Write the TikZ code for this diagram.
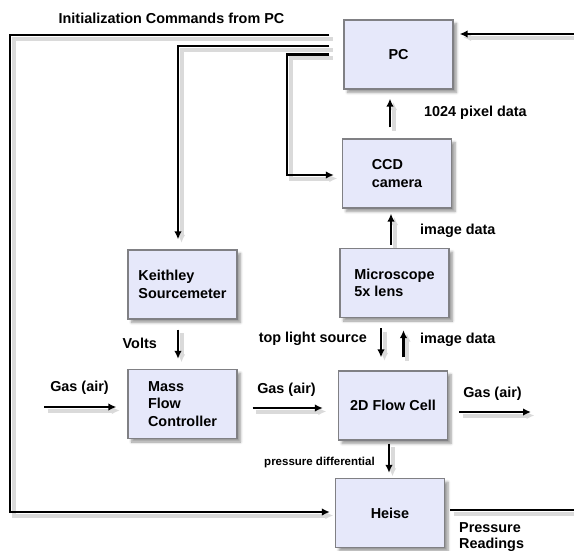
\documentclass[tikz,border=0pt]{standalone}
\usepackage{fontspec}
\setmainfont{Liberation Sans}
\usetikzlibrary{arrows.meta,shadows.blur}

\definecolor{boxfill}{RGB}{230,232,250}
\definecolor{boxline}{RGB}{128,128,132}
\definecolor{shade}{RGB}{218,218,218}

\tikzset{
  box/.style={draw=boxline, line width=1.3pt, fill=boxfill,
    minimum width=109pt, minimum height=69pt, inner sep=0pt,
    align=left, font=\fontsize{14.4}{17.5}\selectfont\bfseries,
    blur shadow={shadow xshift=3.5pt, shadow yshift=-3.5pt,
      shadow blur steps=6, shadow blur radius=2.5pt, shadow opacity=40}},
  conn/.style={line width=2.2pt, black,
    preaction={draw=shade, line width=4pt,
      transform canvas={xshift=3.5pt, yshift=-3.5pt}}},
  arr/.style={conn, -{Latex[length=8pt,width=7.5pt]}},
  lbl/.style={inner sep=0pt, font=\fontsize{14.4}{17.5}\selectfont\bfseries},
  smalllbl/.style={inner sep=0pt, font=\fontsize{11.5}{13}\selectfont\bfseries}
}

\begin{document}
\begin{tikzpicture}[x=1pt, y=-1pt]
\useasboundingbox (0,0) rectangle (574,550);

% blocks
\node[box] (PC)    at (398.5,54.5) {PC};
\node[box] (CCD)   at (397,173.5)  {CCD\\camera};
\node[box] (MIC)   at (394.5,283)  {Microscope\\5x lens};
\node[box] (FLOW)  at (393,405.5)  {2D Flow Cell};
\node[box] (HEISE) at (390,513)    {Heise};
\node[box] (KEI)   at (182.5,284.5){Keithley\\Sourcemeter};
\node[box] (MFC)   at (182.5,404)  {Mass\\Flow\\Controller};

% free ends and corners
\coordinate (lbot)   at (10,512);
\coordinate (lc)     at (287,175);
\coordinate (gasin)  at (44,407);
\coordinate (gasout) at (531,412);
\coordinate (rout)   at (574,510);
\coordinate (rin)    at (574,34);

% initialization commands from the PC
\draw[arr, shorten >=5pt] ([xshift=-14pt,yshift=19.5pt]PC.west) -| (lbot) -- (HEISE.west |- lbot);
\draw[arr] ([xshift=-14pt,yshift=8.5pt]PC.west) -| ([xshift=-4.5pt,yshift=10pt]KEI.north);
\draw[arr, shorten >=8pt] ([xshift=-14pt]PC.west) -| (lc) -- (lc -| CCD.west);

% data paths
\draw[arr, shorten <=11pt, shorten >=9pt] ([xshift=-7pt]CCD.north) -- ([xshift=-7pt]CCD.north |- PC.south);
\draw[arr, shorten <=3pt, shorten >=5pt] ([xshift=-3.5pt]MIC.north) -- ([xshift=-3.5pt]MIC.north |- CCD.south);
\draw[arr, shorten <=10pt, shorten >=13pt] ([xshift=-13.5pt]MIC.south) -- ([xshift=-13.5pt]MIC.south |- FLOW.north);
\draw[arr, shorten <=13pt, shorten >=12pt] ([xshift=10.5pt]FLOW.north) -- ([xshift=10.5pt]FLOW.north |- MIC.south);
\draw[arr, shorten <=10pt, shorten >=10pt] ([xshift=-4.5pt]KEI.south) -- ([xshift=-4.5pt]KEI.south |- MFC.north);
\draw[arr, shorten <=3pt, shorten >=5pt] ([xshift=-4pt]FLOW.south) -- ([xshift=-4pt]FLOW.south |- HEISE.north);

% gas flow
\draw[arr, shorten >=11pt] (gasin) -- (gasin -| MFC.west);
\draw[arr, shorten <=15pt, shorten >=15pt] ([yshift=-4pt]MFC.east) -- ([yshift=-4pt]MFC.east -| FLOW.west);
\draw[arr, shorten <=11pt] ([yshift=-6.5pt]FLOW.east) -- (gasout);

% pressure readings back to the PC
\draw[conn, shorten <=5pt] ([yshift=3pt]HEISE.east) -- (rout);
\draw[arr, shorten >=6pt] (rin) -- (rin -| PC.east);

% labels
\node[lbl, anchor=base] (tinit) at (171.5,23) {Initialization Commands from PC};
\node[lbl, anchor=base west] (tpix) at (424,116) {1024 pixel data};
\node[lbl, anchor=base west] (timg1) at (420,234) {image data};
\node[lbl, anchor=base east] (tvolts) at (157,348) {Volts};
\node[lbl, anchor=base east] (tlight) at (367,342) {top light source};
\node[lbl, anchor=base west] (timg2) at (420,343) {image data};
\node[lbl, anchor=base] (tgas1) at (79.5,391) {Gas (air)};
\node[lbl, anchor=base] (tgas2) at (286.5,393) {Gas (air)};
\node[lbl, anchor=base] (tgas3) at (492.5,397) {Gas (air)};
\node[smalllbl, anchor=base east] (tdiff) at (375,465) {pressure differential};
\node[lbl, anchor=base west] (tpr1) at (459,532) {Pressure};
\node[lbl, anchor=base west] (tpr2) at (459,548) {Readings};
\end{tikzpicture}
\end{document}
